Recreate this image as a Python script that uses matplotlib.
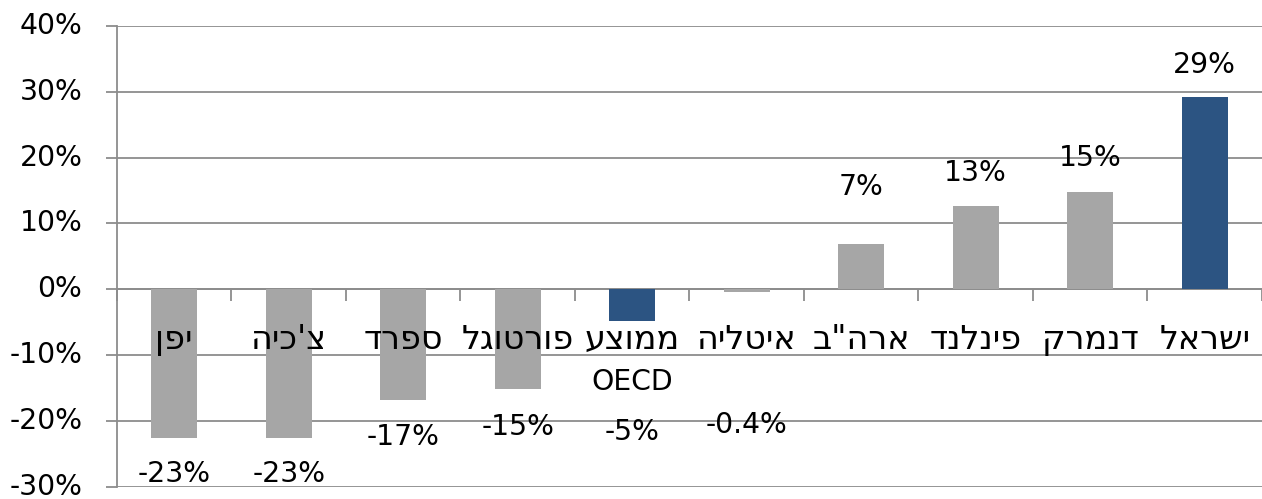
import matplotlib
matplotlib.use("Agg")
import matplotlib.pyplot as plt
import matplotlib.transforms as mtransforms
from matplotlib.ticker import FuncFormatter

plt.rcParams['font.family'] = ['DejaVu Sans']

# ---- data ----
categories = ['יפן', "צ'כיה", 'ספרד', 'פורטוגל', 'ממוצע\nOECD', 'איטליה',
              'ארה"ב', 'פינלנד', 'דנמרק', 'ישראל']
values = [-22.5, -22.5, -16.8, -15.2, -4.8, -0.4, 6.8, 12.7, 14.8, 29.2]
value_labels = ['-23%', '-23%', '-17%', '-15%', '-5%', '-0.4%', '7%', '13%', '15%', '29%']
highlight = [False, False, False, False, True, False, False, False, False, True]
y_ticks = [-30, -20, -10, 0, 10, 20, 30, 40]

# label offsets (pixels from bar end, positive = further from zero)
label_offsets_px = [36, 36, 37, 38, 111, 133, 57, 33, 34, 32]

GRAY = '#a6a6a6'
BLUE = '#2c5482'
GRID = '#8c8c8c'
FS = 20.3
FS_HEB = 24
PT = 0.72  # points per pixel at 100 dpi


def is_hebrew(line):
    return any('\u0590' <= ch <= '\u05ff' for ch in line)


def visual(line):
    """matplotlib has no bidi support: reverse Hebrew lines for display."""
    return line[::-1] if is_hebrew(line) else line


fig = plt.figure(figsize=(12.62, 4.99), dpi=100)
ax = fig.add_axes([0.0927, 0.024, 0.9073, 0.9245])

x = list(range(len(categories)))
colors = [BLUE if h else GRAY for h in highlight]
ax.bar(x, values, width=0.40, color=colors, zorder=3)

ax.set_xlim(-0.5, len(categories) - 0.5)
ax.set_ylim(-30, 40)
ax.set_yticks(y_ticks)
ax.yaxis.set_major_formatter(FuncFormatter(lambda v, p: f'{int(v)}%'))
ax.grid(axis='y', color=GRID, linewidth=1.3, zorder=0)
ax.set_axisbelow(True)

for s in ['top', 'right']:
    ax.spines[s].set_visible(False)
ax.spines['left'].set_color(GRID)
ax.spines['left'].set_linewidth(1.3)
ax.spines['bottom'].set_position(('data', 0))
ax.spines['bottom'].set_color(GRID)
ax.spines['bottom'].set_linewidth(1.3)

ax.tick_params(axis='y', length=8, width=1.3, color=GRID, labelsize=FS, pad=17)
shift = mtransforms.ScaledTranslation(0, 3 / 100, fig.dpi_scale_trans)
for lbl in ax.get_yticklabels():
    lbl.set_transform(lbl.get_transform() + shift)

# category boundary ticks on the zero line
ax.set_xticks([i - 0.5 for i in range(len(categories) + 1)])
ax.set_xticklabels([])
ax.tick_params(axis='x', which='major', length=8.5, width=1.3, color=GRID)

# category labels drawn above the bars
for i, cat in enumerate(categories):
    lines = cat.split('\n')
    ax.annotate(visual(lines[0]), (i, 0), xytext=(0, -60 * PT), textcoords='offset points',
                ha='center', va='baseline', fontsize=FS_HEB, zorder=6,
                annotation_clip=False)
    for k, extra in enumerate(lines[1:]):
        ax.annotate(visual(extra), (i, 0), xytext=(0, -(93 + 34 * k) * PT),
                    textcoords='offset points', ha='center', va='center',
                    fontsize=FS if not is_hebrew(extra) else FS_HEB, zorder=6,
                    annotation_clip=False)

for i, (v, lab, off) in enumerate(zip(values, value_labels, label_offsets_px)):
    sign = 1 if v >= 0 else -1
    ax.annotate(lab, (i, v), xytext=(0, sign * off * PT), textcoords='offset points',
                ha='center', va='center', fontsize=FS, color='black', zorder=6,
                annotation_clip=False)

fig.savefig('out.png', dpi=100, facecolor='white')
